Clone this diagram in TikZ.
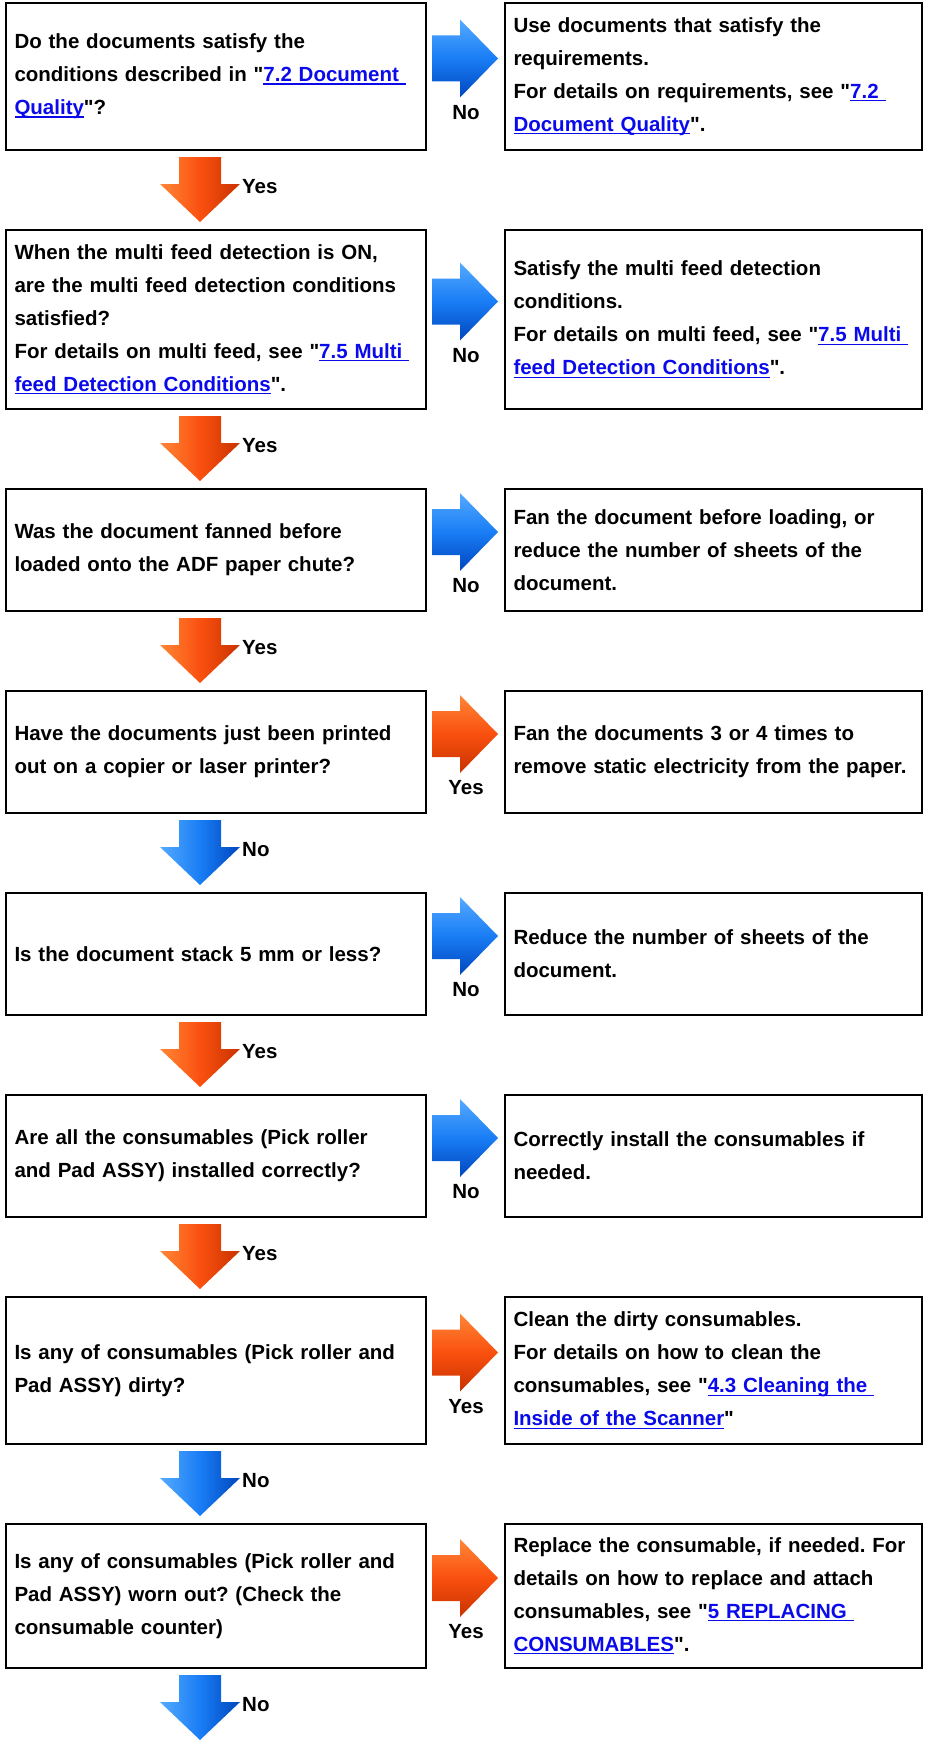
\documentclass[tikz,border=0pt]{standalone}
\usepackage{fontspec}
\setmainfont{Liberation Sans}[Ligatures=TeXOff]
\usetikzlibrary{positioning, calc}
\definecolor{LinkBlue}{RGB}{10, 10, 235}
\definecolor{BlueLight}{RGB}{85, 170, 255}
\definecolor{BlueMain}{RGB}{25, 125, 245}
\definecolor{BlueDark}{RGB}{0, 70, 190}
\definecolor{OrangeLight}{RGB}{255, 135, 55}
\definecolor{OrangeMain}{RGB}{250, 80, 15}
\definecolor{OrangeDark}{RGB}{200, 50, 0}
\newcommand{\lnk}[1]{\leavevmode{\color{LinkBlue}\setbox0\hbox{#1}\rlap{\rule[-3pt]{\wd0}{1.3pt}}\box0}}
\frenchspacing

\begin{document}
\begin{tikzpicture}[x=1pt, y=-1pt,
    every node/.style={font={\fontsize{20.5pt}{33pt}\selectfont\bfseries}},
    qbox/.style={draw, line width=2pt, outer sep=0pt, align=left, text width=403pt, inner xsep=8.5pt, inner ysep=0pt},
    abox/.style={qbox, text width=400pt},
    lbl/.style={inner sep=0pt},
    blueR/.style={top color=BlueLight, bottom color=BlueDark, middle color=BlueMain},
    orangeR/.style={top color=OrangeLight, bottom color=OrangeDark, middle color=OrangeMain},
    blueD/.style={left color=BlueLight, right color=BlueDark, middle color=BlueMain},
    orangeD/.style={left color=OrangeLight, right color=OrangeDark, middle color=OrangeMain},
    downarr/.pic={\path[pic actions] (-21,0) -- (21,0) -- (21,27) -- (40,27) -- (0,65) -- (-40,27) -- (-21,27) -- cycle;},
    rightarr/.pic={\path[pic actions] (0,-23) -- (28,-23) -- (28,-39) -- (66,0) -- (28,39) -- (28,23) -- (0,23) -- cycle;}
]
\useasboundingbox (0,0) rectangle (924,1742);

% question boxes
\node[qbox, minimum height=147pt] (q1) at (216,76.5) {Do the documents satisfy the\\ conditions described in "\lnk{7.2 Document\ }\\ \lnk{Quality}"?};
\node[qbox, minimum height=179pt, below=80pt of q1] (q2) {When the multi feed detection is ON,\\ are the multi feed detection conditions\\ satisfied?\\ For details on multi feed, see "\lnk{7.5 Multi\ }\\ \lnk{feed Detection Conditions}".};
\node[qbox, minimum height=122pt, below=80pt of q2] (q3) {Was the document fanned before\\ loaded onto the ADF paper chute?};
\node[qbox, minimum height=122pt, below=80pt of q3] (q4) {Have the documents just been printed\\ out on a copier or laser printer?};
\node[qbox, minimum height=122pt, below=80pt of q4] (q5) {Is the document stack 5 mm or less?};
\node[qbox, minimum height=122pt, below=80pt of q5] (q6) {Are all the consumables (Pick roller\\ and Pad ASSY) installed correctly?};
\node[qbox, minimum height=147pt, below=80pt of q6] (q7) {Is any of consumables (Pick roller and\\ Pad ASSY) dirty?};
\node[qbox, minimum height=144pt, below=80pt of q7] (q8) {Is any of consumables (Pick roller and\\ Pad ASSY) worn out? (Check the\\ consumable counter)};

% answer boxes
\node[abox, minimum height=147pt, right=79pt of q1] (a1) {Use documents that satisfy the\\ requirements.\\ For details on requirements, see "\lnk{7.2\ }\\ \lnk{Document Quality}".};
\node[abox, minimum height=179pt, right=79pt of q2] (a2) {Satisfy the multi feed detection\\ conditions.\\ For details on multi feed, see "\lnk{7.5 Multi\ }\\ \lnk{feed Detection Conditions}".};
\node[abox, minimum height=122pt, right=79pt of q3] (a3) {Fan the document before loading, or\\ reduce the number of sheets of the\\ document.};
\node[abox, minimum height=122pt, right=79pt of q4] (a4) {Fan the documents 3 or 4 times to\\ remove static electricity from the paper.};
\node[abox, minimum height=122pt, right=79pt of q5] (a5) {Reduce the number of sheets of the\\ document.};
\node[abox, minimum height=122pt, right=79pt of q6] (a6) {Correctly install the consumables if\\ needed.};
\node[abox, minimum height=147pt, right=79pt of q7] (a7) {Clean the dirty consumables.\\ For details on how to clean the\\ consumables, see "\lnk{4.3 Cleaning the\ }\\ \lnk{Inside of the Scanner}"};
\node[abox, minimum height=144pt, right=79pt of q8] (a8) {Replace the consumable, if needed. For\\ details on how to replace and attach\\ consumables, see "\lnk{5 REPLACING\ }\\ \lnk{CONSUMABLES}".};

% side arrows
\pic[blueR] at ($(q1.east)+(6,-18)$) {rightarr};
\node[lbl] (n1) at ($(q1.east)+(40,36)$) {No};
\pic[blueR] at ($(q2.east)+(6,-18)$) {rightarr};
\node[lbl] (n2) at ($(q2.east)+(40,36)$) {No};
\pic[blueR] at ($(q3.east)+(6,-18)$) {rightarr};
\node[lbl] (n3) at ($(q3.east)+(40,36)$) {No};
\pic[orangeR] at ($(q4.east)+(6,-18)$) {rightarr};
\node[lbl] (n4) at ($(q4.east)+(40,36)$) {Yes};
\pic[blueR] at ($(q5.east)+(6,-18)$) {rightarr};
\node[lbl] (n5) at ($(q5.east)+(40,36)$) {No};
\pic[blueR] at ($(q6.east)+(6,-18)$) {rightarr};
\node[lbl] (n6) at ($(q6.east)+(40,36)$) {No};
\pic[orangeR] at ($(q7.east)+(6,-18)$) {rightarr};
\node[lbl] (n7) at ($(q7.east)+(40,36)$) {Yes};
\pic[orangeR] at ($(q8.east)+(6,-18)$) {rightarr};
\node[lbl] (n8) at ($(q8.east)+(40,36)$) {Yes};

% down arrows
\pic[orangeD] at ($(q1.south)+(-16,7)$) {downarr};
\node[lbl, anchor=west] (d1) at ($(q1.south)+(26,37)$) {Yes};
\pic[orangeD] at ($(q2.south)+(-16,7)$) {downarr};
\node[lbl, anchor=west] (d2) at ($(q2.south)+(26,37)$) {Yes};
\pic[orangeD] at ($(q3.south)+(-16,7)$) {downarr};
\node[lbl, anchor=west] (d3) at ($(q3.south)+(26,37)$) {Yes};
\pic[blueD] at ($(q4.south)+(-16,7)$) {downarr};
\node[lbl, anchor=west] (d4) at ($(q4.south)+(26,37)$) {No};
\pic[orangeD] at ($(q5.south)+(-16,7)$) {downarr};
\node[lbl, anchor=west] (d5) at ($(q5.south)+(26,37)$) {Yes};
\pic[orangeD] at ($(q6.south)+(-16,7)$) {downarr};
\node[lbl, anchor=west] (d6) at ($(q6.south)+(26,37)$) {Yes};
\pic[blueD] at ($(q7.south)+(-16,7)$) {downarr};
\node[lbl, anchor=west] (d7) at ($(q7.south)+(26,37)$) {No};
\pic[blueD] at ($(q8.south)+(-16,7)$) {downarr};
\node[lbl, anchor=west] (d8) at ($(q8.south)+(26,37)$) {No};
\end{tikzpicture}
\end{document}
